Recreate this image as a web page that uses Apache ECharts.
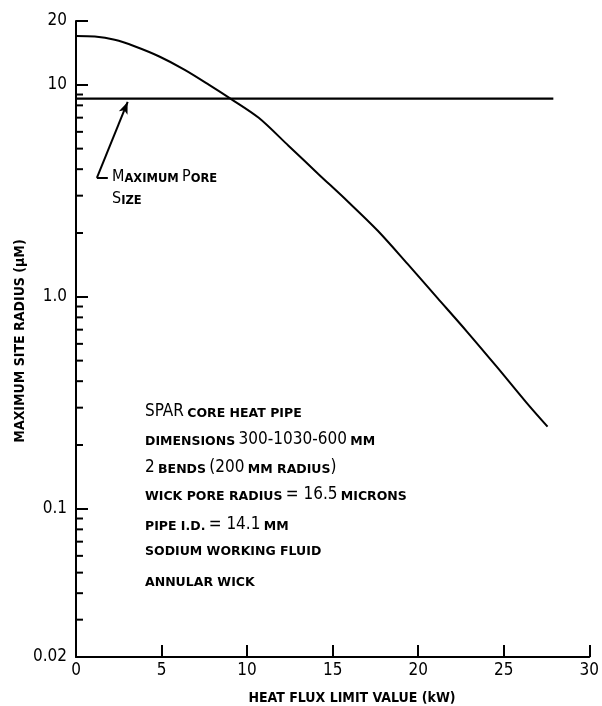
<!DOCTYPE html>
<html>
<head>
<meta charset="utf-8">
<script src="https://cdn.jsdelivr.net/npm/echarts@6/dist/echarts.min.js"></script>
<style>
html,body{margin:0;padding:0;background:#fff;}
#c{width:602px;height:706px;}
</style>
</head>
<body>
<div id="c"></div>
<script>
// Curve: maximum site radius vs heat flux limit
const curveX = [0, 1.10, 2.26, 3.42, 4.87, 6.33, 7.78, 9.05, 10.68, 12.42, 14.16, 15.90, 17.64, 19.38, 21.12, 22.86, 24.60, 26.34, 27.56];
const curveY = [17.0, 16.9, 16.3, 15.2, 13.6, 11.8, 10.0, 8.59, 6.99, 5.16, 3.80, 2.81, 2.05, 1.43, 0.989, 0.684, 0.467, 0.316, 0.244];
// Maximum pore size line
const poreX = [0, 27.9];
const poreY = [8.6, 8.6];
// Annotation pointer (data coords)
const arrowFrom = [1.22, 3.64];
const arrowTo = [3.02, 8.3];
const footEnd = [1.86, 3.64];
// Axis ticks
const xTicks = [0, 5, 10, 15, 20, 25, 30];
const yMin = 0.02, yMax = 20;
const minorTickValues = [0.03,0.04,0.05,0.06,0.07,0.08,0.09,0.2,0.3,0.4,0.5,0.6,0.7,0.8,0.9,2,3,4,5,6,7,8,9];

const BIG = "'DejaVu Sans Condensed','Liberation Sans Narrow','DejaVu Sans',sans-serif";
const SM = "'DejaVu Sans','Liberation Sans',sans-serif";
const rich = {
  L: {fontFamily: BIG, fontSize: 17, color: '#000', verticalAlign: 'bottom', lineHeight: 20},
  S: {fontFamily: SM, fontSize: 12.5, fontWeight: 'bold', color: '#000', verticalAlign: 'bottom', lineHeight: 20}
};
const noteLines = [
  '{L|SPAR} {S|CORE HEAT PIPE}',
  '{S|DIMENSIONS} {L|300-1030-600} {S|MM}',
  '{L|2} {S|BENDS} {L|(200} {S|MM RADIUS}{L|)}',
  '{S|WICK PORE RADIUS} {L|= 16.5} {S|MICRONS}',
  '{S|PIPE I.D.} {L|= 14.1} {S|MM}',
  '{S|SODIUM WORKING FLUID}',
  '{S|ANNULAR WICK}'
];
const noteY = [415, 443, 471, 498, 528, 557, 588];

const chart = echarts.init(document.getElementById('c'), null, {renderer: 'canvas'});
const graphics = noteLines.map((t, i) => ({
  type: 'text', left: 145, top: noteY[i] - 12,
  style: {text: t, rich: rich}
}));
graphics.push({
  type: 'text', left: 112, top: 168,
  style: {text: '{L|M}{S|AXIMUM} {L|P}{S|ORE}\n{L|S}{S|IZE}', rich: {
    L: {fontFamily: BIG, fontSize: 16, color: '#000', verticalAlign: 'bottom', lineHeight: 22},
    S: {fontFamily: SM, fontSize: 11.5, fontWeight: 'bold', color: '#000', verticalAlign: 'bottom', lineHeight: 22}
  }}
});
graphics.push({
  type: 'text', x: 352, y: 698,
  style: {text: 'HEAT FLUX LIMIT VALUE (kW)', fontFamily: BIG, fontWeight: 'bold', fontSize: 14, fill: '#000', align: 'center', verticalAlign: 'middle'}
});
graphics.push({
  type: 'text', x: 20, y: 341, rotation: Math.PI / 2,
  style: {text: 'MAXIMUM SITE RADIUS (µM)', fontFamily: BIG, fontWeight: 'bold', fontSize: 14, fill: '#000', align: 'center', verticalAlign: 'middle'}
});

chart.setOption({
  animation: false,
  backgroundColor: '#fff',
  grid: {left: 76, right: 9, top: 21, bottom: 49, containLabel: false},
  xAxis: {
    type: 'value', min: xTicks[0], max: xTicks[xTicks.length - 1], interval: 5,
    axisLine: {show: true, onZero: false, lineStyle: {color: '#000', width: 2}},
    axisTick: {show: true, inside: true, length: 12, lineStyle: {color: '#000', width: 2}},
    axisLabel: {color: '#000', fontFamily: BIG, fontSize: 17, margin: 5},
    splitLine: {show: false}
  },
  yAxis: {
    type: 'log', logBase: 10, min: yMin, max: yMax,
    axisLine: {show: true, lineStyle: {color: '#000', width: 2}},
    axisTick: {show: true, inside: true, length: 12, lineStyle: {color: '#000', width: 2}},
    axisLabel: {color: '#000', fontFamily: BIG, fontSize: 17, margin: 9, showMinLabel: true, showMaxLabel: true,
      formatter: function (v) { const n = Number(Number(v).toPrecision(6)); return n === 1 ? '1.0' : String(n); }},
    splitLine: {show: false}
  },
  graphic: graphics,
  series: [
    {
      type: 'line', data: curveX.map((x, i) => [x, curveY[i]]),
      showSymbol: false, smooth: 0.3, lineStyle: {color: '#000', width: 2}, z: 3
    },
    {
      type: 'line', data: poreX.map((x, i) => [x, poreY[i]]),
      showSymbol: false, lineStyle: {color: '#000', width: 2.2}, z: 3,
      markLine: {
        silent: true, animation: false,
        lineStyle: {color: '#000', width: 2, type: 'solid'},
        label: {show: false},
        symbolSize: [7, 12],
        data: [
          [{coord: arrowFrom, symbol: 'none'}, {coord: arrowTo, symbol: 'arrow'}],
          [{coord: arrowFrom, symbol: 'none'}, {coord: footEnd, symbol: 'none'}]
        ]
      }
    },
    {
      type: 'custom', data: minorTickValues.map(v => [0, v]), silent: true, z: 4,
      renderItem: function (params, api) {
        const p = api.coord([0, api.value(1)]);
        return {type: 'line', shape: {x1: p[0], y1: p[1], x2: p[0] + 7, y2: p[1]},
          style: {stroke: '#000', lineWidth: 2}};
      }
    }
  ]
});
</script>
</body>
</html>
